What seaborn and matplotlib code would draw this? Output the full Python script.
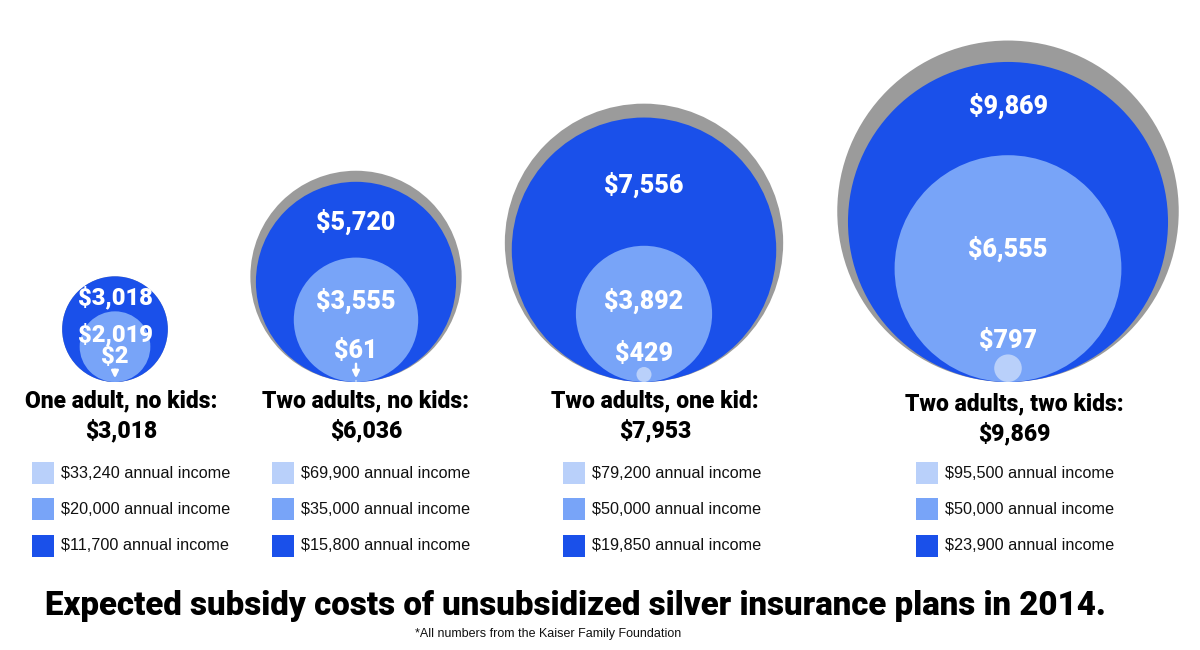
import matplotlib
matplotlib.use("Agg")
import matplotlib.pyplot as plt
import seaborn as sns
from matplotlib.patches import Circle, Rectangle

# data
groups = ["One adult, no kids:", "Two adults, no kids:", "Two adults, one kid:", "Two adults, two kids:"]
totals = [3018, 6036, 7953, 9869]          # unsubsidized cost (gray)
low_sub = [3018, 5720, 7556, 9869]         # subsidy at lowest income (label)
low_drawn = [3018, 5720, 7556, 9250]       # size of the dark circle as drawn
mid_sub = [2019, 3555, 3892, 6555]
high_sub = [2, 61, 429, 797]
low_inc = ["$11,700", "$15,800", "$19,850", "$23,900"]
mid_inc = ["$20,000", "$35,000", "$50,000", "$50,000"]
high_inc = ["$33,240", "$69,900", "$79,200", "$95,500"]

# layout (pixel coords, y downwards)
cx = [115, 356, 644, 1008]
base = 382
k = [0.0175, 0.0175, 0.0175, 0.0173]  # px per dollar (radius)
dark_y = [298, 222, 185, 106]
mid_y = [335, 301, 301, 249]
high_y = [357, 351, 354, 341]
lbl_size = [17, 18, 18, 18]
title_x = [121, 366, 655, 1014]
title_y = [401, 401, 401, 404]
legend_x = [32, 272, 563, 916]
legend_rows = [473, 509, 546]

sns.set_theme(style="white")
pal = sns.color_palette(["#b9d0fa", "#78a4f8", "#1a50ea"])
gray = "#9b9b9b"
plt.rcParams['font.family'] = ['DejaVu Sans']
heavy = dict(family=["Roboto", "DejaVu Sans"], fontweight="black")

fig = plt.figure(figsize=(12, 6.5), dpi=100)
ax = fig.add_axes([0, 0, 1, 1])
ax.set_xlim(0, 1200)
ax.set_ylim(650, 0)
ax.set_aspect("equal")
ax.axis("off")

for i in range(len(groups)):
    layers = [(totals[i], gray), (low_drawn[i], pal[2]), (mid_sub[i], pal[1]), (high_sub[i], pal[0])]
    for val, col in layers:
        r = val * k[i]
        ax.add_patch(Circle((cx[i], base - r), r, color=col, lw=0))
    lbl = dict(color="white", fontsize=lbl_size[i], ha="center", va="center", **heavy)
    ax.text(cx[i], dark_y[i], f"${low_sub[i]:,}", **lbl)
    ax.text(cx[i], mid_y[i], f"${mid_sub[i]:,}", **lbl)
    ax.text(cx[i], high_y[i], f"${high_sub[i]:,}", **lbl)
    if high_sub[i] * k[i] < 3:
        ax.annotate("", xy=(cx[i], base - 1), xytext=(cx[i], high_y[i] + 10),
                    arrowprops=dict(arrowstyle="-|>", color="white", lw=1.8, mutation_scale=10))

    ax.text(title_x[i], title_y[i], groups[i], fontsize=16.5, ha="center", va="center", color="black", **heavy)
    ax.text(title_x[i], title_y[i] + 30, f"${totals[i]:,}", fontsize=16.5, ha="center", va="center",
            color="black", **heavy)

    incs = [high_inc[i], mid_inc[i], low_inc[i]]
    for j, yy in enumerate(legend_rows):
        ax.add_patch(Rectangle((legend_x[i], yy - 11), 22, 22, color=pal[j], lw=0))
        ax.text(legend_x[i] + 29, yy, f"{incs[j]} annual income", fontsize=11.7, ha="left", va="center",
                color="#111111", family=["Liberation Sans", "DejaVu Sans"])

ax.text(575, 606, "Expected subsidy costs of unsubsidized silver insurance plans in 2014.",
        fontsize=23.8, ha="center", va="center", color="black", **heavy)
ax.text(548, 634, "*All numbers from the Kaiser Family Foundation", fontsize=9, ha="center", va="center",
        color="#111111", family=["Liberation Sans", "DejaVu Sans"])

fig.savefig("out.png", dpi=100, facecolor="white")
